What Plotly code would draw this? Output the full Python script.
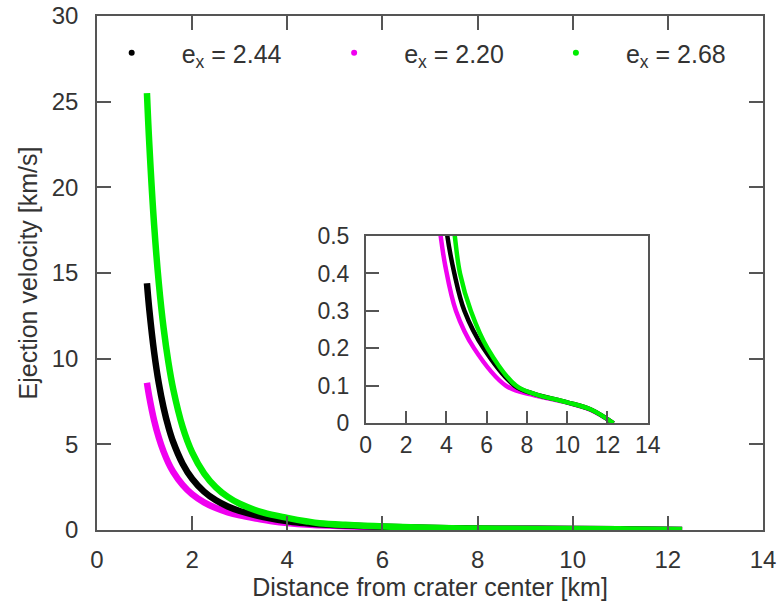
import plotly.graph_objects as go

# Ejection velocity vs. distance from crater centre for three exponents e_x
labels = ["e<sub>x</sub> = 2.44", "e<sub>x</sub> = 2.20", "e<sub>x</sub> = 2.68"]
colors = ["#000000", "#f000f0", "#00ee00"]

x_244 = [1.05, 1.1, 1.2, 1.3, 1.4, 1.5, 1.6, 1.8, 2.0, 2.25, 2.5, 2.75, 3.0, 3.5,
         4.05, 4.4, 4.9, 5.85, 7.4, 8.4, 10.0, 11.2, 12.3]
v_244 = [14.4, 12.85, 10.4, 8.55, 7.14, 6.03, 5.15, 3.87, 2.99, 2.24, 1.73, 1.37, 1.11, 0.76,
         0.5, 0.4, 0.3, 0.2, 0.1, 0.078, 0.056, 0.036, 0.0]

x_220 = [1.05, 1.1, 1.2, 1.3, 1.4, 1.5, 1.6, 1.8, 2.0, 2.25, 2.5, 2.75, 3.0, 3.35,
         3.72, 3.95, 4.48, 5.38, 6.97, 8.2, 10.0, 11.2, 12.3]
v_220 = [8.6, 7.76, 6.41, 5.38, 4.57, 3.92, 3.40, 2.63, 2.08, 1.61, 1.28, 1.03, 0.854, 0.67,
         0.5, 0.42, 0.3, 0.2, 0.1, 0.077, 0.055, 0.035, 0.0]

x_268 = [1.05, 1.1, 1.2, 1.3, 1.4, 1.5, 1.6, 1.8, 2.0, 2.25, 2.5, 2.75, 3.0, 3.5, 4.0,
         4.42, 4.68, 5.22, 6.05, 7.47, 8.4, 10.0, 11.2, 12.3]
v_268 = [25.5, 22.5, 17.83, 14.39, 11.79, 9.80, 8.25, 6.01, 4.53, 3.31, 2.49, 1.93, 1.53, 1.01, 0.708,
         0.5, 0.4, 0.3, 0.2, 0.1, 0.078, 0.056, 0.036, 0.0]

x_ticks = [0, 2, 4, 6, 8, 10, 12, 14]
y_ticks = [0, 5, 10, 15, 20, 25, 30]
y_ticks_inset = [0, 0.1, 0.2, 0.3, 0.4, 0.5]

series = [(x_244, v_244), (x_220, v_220), (x_268, v_268)]
draw_order = [1, 0, 2]  # magenta underneath, green on top

FONT = "Liberation Sans, Arial, Helvetica, sans-serif"
TEXT = "#333333"
AXIS = "#555555"

fig = go.Figure()

for i in draw_order:
    xs, vs = series[i]
    fig.add_trace(go.Scatter(x=xs, y=vs, mode="lines", line=dict(color=colors[i], width=6.5, shape="spline"),
                             showlegend=False, hoverinfo="skip", xaxis="x", yaxis="y"))
for i in draw_order:
    xs, vs = series[i]
    fig.add_trace(go.Scatter(x=xs, y=vs, mode="lines", line=dict(color=colors[i], width=4.5, shape="spline"),
                             showlegend=False, hoverinfo="skip", xaxis="x2", yaxis="y2"))

# one single-entry legend per series, spread along the top of the plot
legend_ids = ["legend", "legend2", "legend3"]
legend_x = [-0.023, 0.311, 0.644]
for i in range(3):
    fig.add_trace(go.Scatter(x=[None], y=[None], mode="markers", name=labels[i],
                             marker=dict(color=colors[i], size=6), legend=legend_ids[i]))

axis_common = dict(showline=True, linecolor=AXIS, linewidth=1.5, ticks="inside", tickcolor=AXIS,
                   tickwidth=1.5, showgrid=False, zeroline=False)

legend_style = dict(orientation="h", y=0.928, xanchor="left", yanchor="middle", itemwidth=90,
                    bgcolor="rgba(0,0,0,0)", font=dict(size=25, color=TEXT))

fig.update_layout(
    width=777, height=608,
    margin=dict(l=97, r=14, t=16, b=78, autoexpand=False),
    paper_bgcolor="white", plot_bgcolor="white",
    font=dict(family=FONT, size=24, color=TEXT),
    xaxis=dict(range=[0, 14], tickvals=x_ticks, ticklen=14, mirror="ticks", ticklabelstandoff=7,
               tickfont=dict(size=24, color=TEXT),
               title=dict(text="Distance from crater center [km]", font=dict(size=25), standoff=6),
               **axis_common),
    yaxis=dict(range=[0, 30], tickvals=y_ticks, ticklen=14, mirror="ticks", ticklabelstandoff=12,
               tickfont=dict(size=24, color=TEXT),
               title=dict(text="Ejection velocity [km/s]", font=dict(size=25), standoff=7),
               **axis_common),
    xaxis2=dict(domain=[0.4035, 0.827], anchor="y2", range=[0, 14], tickvals=x_ticks, ticklen=13,
                mirror=True, tickfont=dict(size=23, color=TEXT), **axis_common),
    yaxis2=dict(domain=[0.2076, 0.572], anchor="x2", range=[0, 0.5], tickvals=y_ticks_inset,
                ticktext=[str(v) for v in y_ticks_inset], ticklen=14, mirror=True, ticklabelstandoff=10,
                tickfont=dict(size=23, color=TEXT), **axis_common),
    legend=dict(x=legend_x[0], **legend_style),
    legend2=dict(x=legend_x[1], **legend_style),
    legend3=dict(x=legend_x[2], **legend_style),
)

fig.write_html("out.html")
